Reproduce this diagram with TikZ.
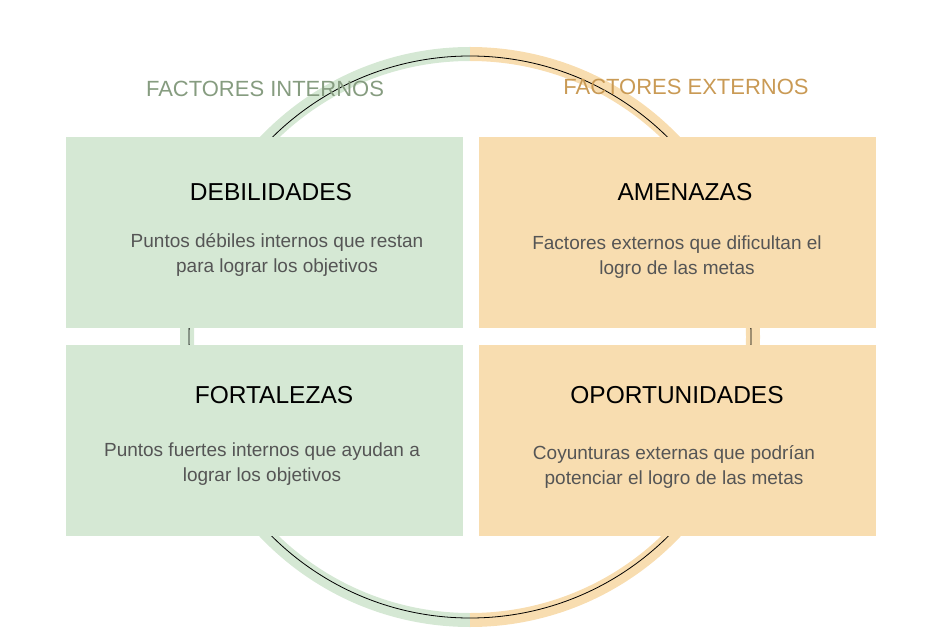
\documentclass[tikz,border=0pt]{standalone}
\usepackage{fontspec}
\setmainfont{Liberation Sans}
\usepackage{tikz}
\usetikzlibrary{positioning}
\definecolor{intfill}{HTML}{D5E8D4}
\definecolor{extfill}{HTML}{F8DDB0}
\definecolor{inttext}{HTML}{869C80}
\definecolor{exttext}{HTML}{C99A55}
\definecolor{bodytext}{HTML}{555555}

\begin{document}
\begin{tikzpicture}[
    x=1pt, y=-1pt,
    box/.style={rectangle, minimum width=397pt, minimum height=191pt, inner sep=0pt},
    title/.style={font=\fontsize{24.5}{28}\selectfont, text=black},
    body/.style={font=\fontsize{19}{25}\selectfont, text=bodytext, align=center},
    side/.style={font=\fontsize{22}{26}\selectfont}
]
    \useasboundingbox (0,0) rectangle (945,636);

    % Ring
    \draw[intfill, line width=14pt] (470,54) arc[start angle=-90, end angle=-270, radius=283];
    \draw[extfill, line width=14pt] (470,54) arc[start angle=-90, end angle=90, radius=283];
    \draw[black, line width=0.8pt] (470,337) circle[radius=281];

    % Boxes
    \node[box, fill=intfill] (deb) at (264.5,232.5) {};
    \node[box, fill=intfill] (fort) at (264.5,440.5) {};
    \node[box, fill=extfill] (amen) at (677.5,232.5) {};
    \node[box, fill=extfill] (opor) at (677.5,440.5) {};

    % Headings
    \node[side, text=inttext] (interno) at (265,89) {FACTORES INTERNOS};
    \node[side, text=exttext] (externo) at (686,87) {FACTORES EXTERNOS};

    % Texts
    \node[title] (tdeb) at (271,192) {DEBILIDADES};
    \node[body] at (277,255) {Puntos débiles internos que restan\\para lograr los objetivos};
    \node[title] (tamen) at (685,192) {AMENAZAS};
    \node[body] at (677,257) {Factores externos que dificultan el\\logro de las metas};
    \node[title] (tfort) at (274,395) {FORTALEZAS};
    \node[body] at (262,464) {Puntos fuertes internos que ayudan a\\lograr los objetivos};
    \node[title] (topor) at (677,395) {OPORTUNIDADES};
    \node[body] at (674,467) {Coyunturas externas que podrían\\potenciar el logro de las metas};
\end{tikzpicture}
\end{document}
